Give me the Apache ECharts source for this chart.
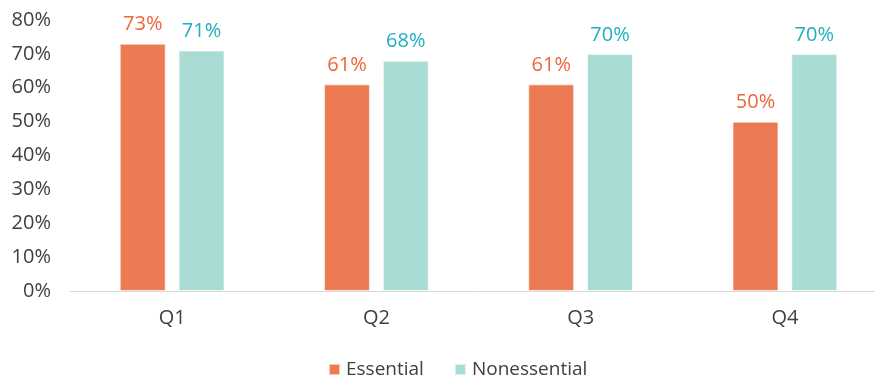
<!DOCTYPE html>
<html>
<head>
<meta charset="utf-8">
<script src="https://cdn.jsdelivr.net/npm/echarts@6/dist/echarts.min.js"></script>
<style>
  html, body { margin: 0; padding: 0; background: #fff; }
  #chart { width: 875px; height: 379px; }
</style>
</head>
<body>
<div id="chart"></div>
<script>
// Share by quarter, essential vs nonessential
const quarters = ['Q1', 'Q2', 'Q3', 'Q4'];
const essential = [73, 61, 61, 50];
const nonessential = [71, 68, 70, 70];
const yTicks = [0, 10, 20, 30, 40, 50, 60, 70, 80];

const FONT = '"Open Sans"';
const TEXT = '#404040';

const chart = echarts.init(document.getElementById('chart'));

function barSeries(name, data, fill, labelColor) {
  return {
    name: name,
    type: 'bar',
    data: data,
    barWidth: '22.5%',
    barGap: '28%',
    itemStyle: { color: fill, borderColor: 'rgba(255,255,255,0.6)', borderWidth: 1 },
    label: {
      show: true,
      position: 'top',
      distance: 9,
      formatter: p => p.value + '%',
      color: labelColor,
      fontFamily: FONT,
      fontSize: 20
    }
  };
}

chart.setOption({
  animation: false,
  textStyle: { fontFamily: FONT },
  // plot area runs past the right edge, so the last category is partly cut off
  grid: { left: 70, width: 817, top: 20, bottom: 88, containLabel: false, outerBoundsMode: 'none' },
  legend: {
    top: 355,
    left: 323,
    itemWidth: 11,
    itemHeight: 11,
    itemGap: 30,
    icon: 'rect',
    textStyle: { color: TEXT, fontSize: 19, fontFamily: FONT, padding: [0, 0, 0, 1] },
    data: ['Essential', 'Nonessential']
  },
  xAxis: {
    type: 'category',
    data: quarters,
    axisLine: { lineStyle: { color: '#d9d9d9', width: 1 } },
    axisTick: { show: false },
    axisLabel: { color: TEXT, fontSize: 20, fontFamily: FONT, margin: 17 }
  },
  yAxis: {
    type: 'value',
    min: yTicks[0],
    max: yTicks[yTicks.length - 1],
    interval: 10,
    splitLine: { show: false },
    axisLine: { show: false },
    axisTick: { show: false },
    axisLabel: {
      color: TEXT,
      fontSize: 20,
      fontFamily: FONT,
      margin: 19,
      formatter: v => v + '%'
    }
  },
  series: [
    barSeries('Essential', essential, '#EC7A53', '#F0643A'),
    barSeries('Nonessential', nonessential, '#A8DCD4', '#1FAFBF')
  ]
});
</script>
</body>
</html>
